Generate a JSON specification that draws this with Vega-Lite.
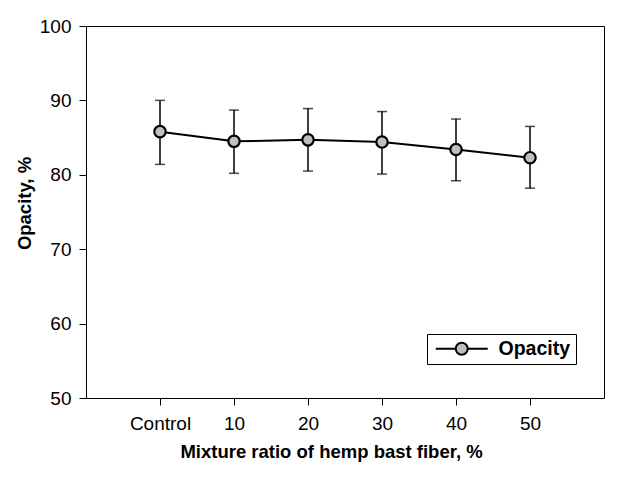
{
  "$schema": "https://vega.github.io/schema/vega-lite/v6.json",
  "width": 518,
  "height": 372,
  "autosize": {"type": "none"},
  "padding": {"left": 86, "top": 26, "right": 14, "bottom": 82},
  "background": "white",
  "config": {
    "view": {"stroke": "black", "strokeWidth": 1},
    "font": "Liberation Sans",
    "axis": {
      "labelFont": "Liberation Sans",
      "titleFont": "Liberation Sans",
      "labelFontSize": 19,
      "titleFontSize": 18.5,
      "titleFontWeight": "bold",
      "labelColor": "black",
      "titleColor": "black",
      "tickColor": "black",
      "domainColor": "black",
      "grid": false,
      "tickSize": 7,
      "tickWidth": 1,
      "domainWidth": 1
    }
  },
  "data": {
    "values": [
      {"ratio": "Control", "opacity": 85.8, "hi": 90.0, "lo": 81.4, "series": "Opacity"},
      {"ratio": "10", "opacity": 84.5, "hi": 88.7, "lo": 80.2, "series": "Opacity"},
      {"ratio": "20", "opacity": 84.7, "hi": 88.9, "lo": 80.5, "series": "Opacity"},
      {"ratio": "30", "opacity": 84.4, "hi": 88.5, "lo": 80.1, "series": "Opacity"},
      {"ratio": "40", "opacity": 83.4, "hi": 87.5, "lo": 79.2, "series": "Opacity"},
      {"ratio": "50", "opacity": 82.3, "hi": 86.5, "lo": 78.2, "series": "Opacity"}
    ]
  },
  "encoding": {
    "x": {
      "field": "ratio",
      "type": "ordinal",
      "sort": ["Control", "10", "20", "30", "40", "50"],
      "scale": {"type": "point", "padding": 1},
      "axis": {"title": "Mixture ratio of hemp bast fiber, %", "labelAngle": 0, "labelPadding": 9, "titlePadding": 9, "titleX": 245, "domain": false}
    }
  },
  "layer": [
    {
      "mark": {"type": "rule", "color": "black", "strokeWidth": 1.5},
      "encoding": {
        "y": {"field": "lo", "type": "quantitative", "scale": {"domain": [50, 100], "nice": false, "zero": false},
          "axis": {"title": "Opacity, %", "values": [50, 60, 70, 80, 90, 100], "labelPadding": 8, "titlePadding": 5, "titleY": 177, "domain": false}},
        "y2": {"field": "hi"}
      }
    },
    {
      "mark": {"type": "tick", "color": "black", "size": 10, "thickness": 1.5, "orient": "horizontal"},
      "encoding": {"y": {"field": "hi", "type": "quantitative"}}
    },
    {
      "mark": {"type": "tick", "color": "black", "size": 10, "thickness": 1.5, "orient": "horizontal"},
      "encoding": {"y": {"field": "lo", "type": "quantitative"}}
    },
    {
      "mark": {"type": "line", "color": "black", "strokeWidth": 2},
      "encoding": {"y": {"field": "opacity", "type": "quantitative"}}
    },
    {
      "mark": {"type": "point", "filled": true, "size": 130, "stroke": "black", "strokeWidth": 2.2, "opacity": 1},
      "encoding": {
        "y": {"field": "opacity", "type": "quantitative"},
        "fill": {
          "field": "series",
          "type": "nominal",
          "scale": {"range": ["#c0c0b8"]},
          "legend": {
            "title": null,
            "orient": "none",
            "legendX": 341,
            "legendY": 308,
            "padding": 5,
            "strokeColor": "black",
            "fillColor": "white",
            "symbolType": "M-1,0H2.33M4.33,0H7.67M4.33,0A1,1 0 1 1 2.33,0A1,1 0 1 1 4.33,0",
            "symbolSize": 144,
            "symbolStrokeColor": "black",
            "symbolStrokeWidth": 2,
            "symbolOpacity": 1,
            "labelOffset": 47,
            "labelFont": "Liberation Sans",
            "labelFontSize": 19.5,
            "labelFontWeight": "bold",
            "labelColor": "black"
          }
        }
      }
    }
  ]
}
